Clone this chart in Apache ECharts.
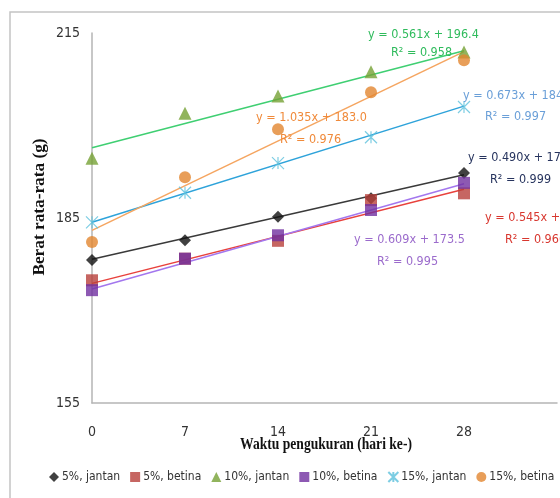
<!DOCTYPE html>
<html>
<head>
<meta charset="utf-8">
<script src="https://cdn.jsdelivr.net/npm/echarts@6/dist/echarts.min.js"></script>
<style>
  html, body { margin: 0; padding: 0; background: #fff; }
  #grafico { width: 560px; height: 498px; }
</style>
</head>
<body>
<div id="grafico"></div>
<script>
// Datos
const hari = [0, 7, 14, 21, 28];
const nombres = ['5%, jantan', '5%, betina', '10%, jantan', '10%, betina', '15%, jantan', '15%, betina'];

const jantan5 = [178.2, 181.4, 185.2, 188.2, 192.3];
const betina5 = [174.9, 178.4, 181.3, 187.9, 189.0];
const jantan10 = [194.7, 202.0, 204.8, 208.7, 211.9];
const betina10 = [173.3, 178.4, 182.2, 186.3, 190.7];
const jantan15 = [184.3, 189.1, 193.9, 198.1, 203.0];
const betina15 = [181.1, 191.6, 199.4, 205.4, 210.6];

// Garis tren (kemiringan, intersep, R2)
const kemiringan = [0.490, 0.545, 0.561, 0.609, 0.673, 1.035];
const intersep = [178.3, 174.4, 196.4, 173.5, 184.3, 183.0];
const r2 = [0.999, 0.960, 0.958, 0.995, 0.997, 0.976];

const ticksY = [155, 185, 215];

// Estilos
const warnaTitik = ['#111111', '#b8403b', '#76a135', '#7030a0', '#5cc0dc', '#e2862f'];
const warnaTren = ['#3a3a3a', '#e8413c', '#3fcf72', '#a377ee', '#2ea3da', '#f5a560'];
const warnaTeks = ['#27345e', '#d8372f', '#2fbb5c', '#9b6bcc', '#6a9fd8', '#f08a3a'];
const simbol = ['diamond', 'rect', 'triangle', 'rect',
  'path://M0,0L10,10M10,0L0,10M5,0L5,10', 'circle'];
const posLabel = [[468, 158], [485, 218], [368, 35], [354, 240], [463, 96], [256, 118]];
const posR2 = [[490, 180], [505, 240], [391, 53], [377, 262], [485, 117], [280, 140]];

const fuente = "'DejaVu Sans Condensed', 'Liberation Sans Narrow', 'Noto Sans', sans-serif";

function crearSeries() {
  const datos = [jantan5, betina5, jantan10, betina10, jantan15, betina15];
  const series = [];
  // Tren primero para que quede debajo
  datos.forEach((d, i) => {
    const x0 = hari[0], x1 = hari[hari.length - 1];
    series.push({
      name: 'tren' + i,
      type: 'line',
      data: [[x0, kemiringan[i] * x0 + intersep[i]], [x1, kemiringan[i] * x1 + intersep[i]]],
      symbol: 'none',
      lineStyle: { color: warnaTren[i], width: 1.5 },
      silent: true,
      z: 2
    });
  });
  datos.forEach((d, i) => {
    series.push({
      name: nombres[i],
      type: 'scatter',
      data: hari.map((h, k) => [h, d[k]]),
      symbol: simbol[i],
      symbolSize: i === 2 ? 13 : 12,
      itemStyle: i === 4
        ? { color: warnaTitik[i], borderColor: warnaTitik[i], borderWidth: 1.2 }
        : { color: warnaTitik[i] },
      z: 3
    });
  });
  return series;
}

function crearTeks() {
  const g = [];
  for (let i = 0; i < 6; i++) {
    g.push({
      type: 'text', x: posLabel[i][0], y: posLabel[i][1],
      style: {
        text: 'y = ' + kemiringan[i].toFixed(3) + 'x + ' + intersep[i].toFixed(1),
        fill: warnaTeks[i], font: '12.5px ' + fuente, textVerticalAlign: 'middle'
      },
      z: 10
    });
    g.push({
      type: 'text', x: posR2[i][0], y: posR2[i][1],
      style: {
        text: 'R² = ' + r2[i].toFixed(3),
        fill: warnaTeks[i], font: '12.5px ' + fuente, textVerticalAlign: 'middle'
      },
      z: 10
    });
  }
  // marco exterior
  g.push({
    type: 'rect', shape: { x: 10, y: 12, width: 620, height: 600 },
    style: { fill: 'none', stroke: '#c4c4c4', lineWidth: 1.5 }, z: 0
  });
  // titulos de ejes
  g.push({
    type: 'text', x: 40, y: 207, rotation: Math.PI / 2, scaleX: 1.08,
    style: {
      text: 'Berat rata-rata (g)', fill: '#111',
      font: 'bold 16px "Liberation Serif", serif',
      textAlign: 'center', textVerticalAlign: 'middle'
    }
  });
  g.push({
    type: 'text', x: 326, y: 445, scaleX: 0.8,
    style: {
      text: 'Waktu pengukuran (hari ke-)', fill: '#111',
      font: 'bold 17px "Liberation Serif", serif',
      textAlign: 'center', textVerticalAlign: 'middle'
    }
  });
  return g;
}

function iniciar() {
  const chartDom = document.getElementById('grafico');
  const myChart = echarts.init(chartDom, null, { renderer: 'canvas' });
  const option = {
    animation: false,
    backgroundColor: '#fff',
    grid: { left: 92, top: 33, bottom: 95, right: -12 },
    xAxis: {
      type: 'value', min: 0, max: 35, interval: 7,
      axisLine: { lineStyle: { color: '#b5b5b5', width: 1.5 } },
      axisTick: { show: false },
      splitLine: { show: false },
      axisLabel: {
        color: '#333', fontSize: 14, fontFamily: fuente, margin: 22,
        formatter: v => (v <= 28 ? String(v) : '')
      }
    },
    yAxis: {
      type: 'value', min: ticksY[0], max: ticksY[ticksY.length - 1],
      interval: ticksY[1] - ticksY[0],
      axisLine: { show: true, lineStyle: { color: '#b5b5b5', width: 1.5 } },
      axisTick: { show: false },
      splitLine: { show: false },
      axisLabel: { color: '#333', fontSize: 14, fontFamily: fuente, margin: 12 }
    },
    legend: {
      data: nombres.map((n, i) => ({ name: n, icon: simbol[i] })),
      top: 466, left: 44, width: 1000, orient: 'horizontal',
      itemWidth: 10, itemHeight: 10, itemGap: 10,
      textStyle: { color: '#333', fontSize: 12, fontFamily: fuente, padding: [0, 0, 0, -2] }
    },
    graphic: crearTeks(),
    series: crearSeries()
  };
  myChart.setOption(option);
}

iniciar();
</script>
</body>
</html>
